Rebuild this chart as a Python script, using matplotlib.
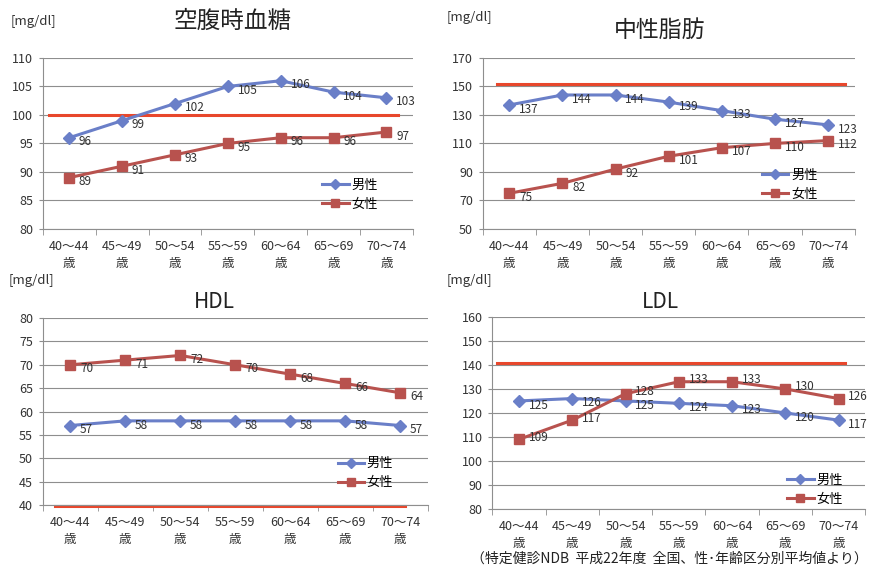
import numpy as np
import matplotlib.pyplot as plt
from matplotlib.lines import Line2D

plt.rcParams['font.family'] = ['Noto Sans CJK JP', 'DejaVu Sans']

# age groups and averages for men / women
ages = ["40〜44\n歳", "45〜49\n歳", "50〜54\n歳", "55〜59\n歳", "60〜64\n歳", "65〜69\n歳", "70〜74\n歳"]

glucose_m = [96, 99, 102, 105, 106, 104, 103]
glucose_f = [89, 91, 93, 95, 96, 96, 97]
tg_m = [137, 144, 144, 139, 133, 127, 123]
tg_f = [75, 82, 92, 101, 107, 110, 112]
hdl_m = [57, 58, 58, 58, 58, 58, 57]
hdl_f = [70, 71, 72, 70, 68, 66, 64]
ldl_m = [125, 126, 125, 124, 123, 120, 117]
ldl_f = [109, 117, 128, 133, 133, 130, 126]

# reference limits (red lines)
glucose_limit = 100
tg_limit = 151.5
hdl_limit = 39.8
ldl_limit = 141

blue = "#6A7FC8"
red = "#B8524E"
limit_red = "#E8472C"
grid_gray = "#8E8E8E"
text_col = "#333333"

fig = plt.figure(figsize=(8.73, 5.68), dpi=100)


def draw_panel(rect, title, male, female, limit, limit_span, ylim, step,
               title_xy, title_size, unit_xy, legend_xy, female_dy=-3):
    ax = fig.add_axes(rect)
    x = np.arange(len(ages))
    ax.set_xlim(-0.5, len(ages) - 0.5)
    ax.set_ylim(*ylim)
    ax.set_yticks(np.arange(ylim[0], ylim[1] + 1, step))
    ax.grid(axis='y', color=grid_gray, linewidth=0.8)
    ax.set_axisbelow(True)
    for s in ['top', 'right']:
        ax.spines[s].set_visible(False)
    for s in ['left', 'bottom']:
        ax.spines[s].set_color(grid_gray)
    ax.tick_params(axis='y', labelsize=9, colors=text_col, length=3, color=grid_gray, pad=4)
    ax.set_xticks(x)
    ax.set_xticklabels(ages, fontsize=9, linespacing=1.4, color=text_col)
    ax.tick_params(axis='x', which='major', length=0, pad=8)
    ax.set_xticks(np.arange(-0.5, len(ages), 1), minor=True)
    ax.tick_params(axis='x', which='minor', length=4, color=grid_gray)

    # reference line
    ax.plot(limit_span, [limit, limit], color=limit_red, linewidth=2.2, zorder=2, clip_on=False)

    ax.plot(x, male, color=blue, linewidth=2.2, marker='D', markersize=6, zorder=3)
    ax.plot(x, female, color=red, linewidth=2.2, marker='s', markersize=7, zorder=3)
    for xi, v in zip(x, male):
        ax.annotate(str(v), (xi, v), xytext=(7, -3), textcoords='offset points',
                    fontsize=8.5, color=text_col, va='center', ha='left', zorder=4)
    for xi, v in zip(x, female):
        ax.annotate(str(v), (xi, v), xytext=(7, female_dy), textcoords='offset points',
                    fontsize=8.5, color=text_col, va='center', ha='left', zorder=4)

    handles = [Line2D([], [], color=blue, linewidth=2.2, marker='D', markersize=5),
               Line2D([], [], color=red, linewidth=2.2, marker='s', markersize=6)]
    ax.legend(handles, ["男性", "女性"], loc='center right', bbox_to_anchor=legend_xy,
              frameon=False, fontsize=9.5, handlelength=2.0, handletextpad=0.2,
              labelspacing=0.45, borderaxespad=0, borderpad=0)

    fig.text(title_xy[0], title_xy[1], title, fontsize=title_size, ha='center', va='center', color="#222222")
    fig.text(unit_xy[0], unit_xy[1], "[mg/dl]", fontsize=9.5, ha='left', va='center', color=text_col)
    return ax


draw_panel([0.049, 0.597, 0.424, 0.301], "空腹時血糖", glucose_m, glucose_f, glucose_limit,
           [-0.39, 6.21], (80, 110), 5, (0.267, 0.962), 17, (0.012, 0.962), (0.905, 0.2))
draw_panel([0.553, 0.597, 0.426, 0.301], "中性脂肪", tg_m, tg_f, tg_limit,
           [-0.24, 6.32], (50, 170), 20, (0.756, 0.946), 16.5, (0.512, 0.970), (0.90, 0.257))
draw_panel([0.049, 0.111, 0.441, 0.329], "HDL", hdl_m, hdl_f, hdl_limit,
           [-0.28, 6.08], (40, 80), 5, (0.246, 0.468), 15, (0.010, 0.507), (0.91, 0.17))
draw_panel([0.564, 0.104, 0.427, 0.338], "LDL", ldl_m, ldl_f, ldl_limit,
           [-0.41, 6.12], (80, 160), 10, (0.756, 0.468), 15, (0.512, 0.507), (0.94, 0.10),
           female_dy=1.5)

fig.text(0.767, 0.017, "（特定健診NDB  平成22年度  全国、性･年齢区分別平均値より）",
         fontsize=10, ha='center', va='center', color="#222222")

fig.savefig("out.png", dpi=100, facecolor='white')
